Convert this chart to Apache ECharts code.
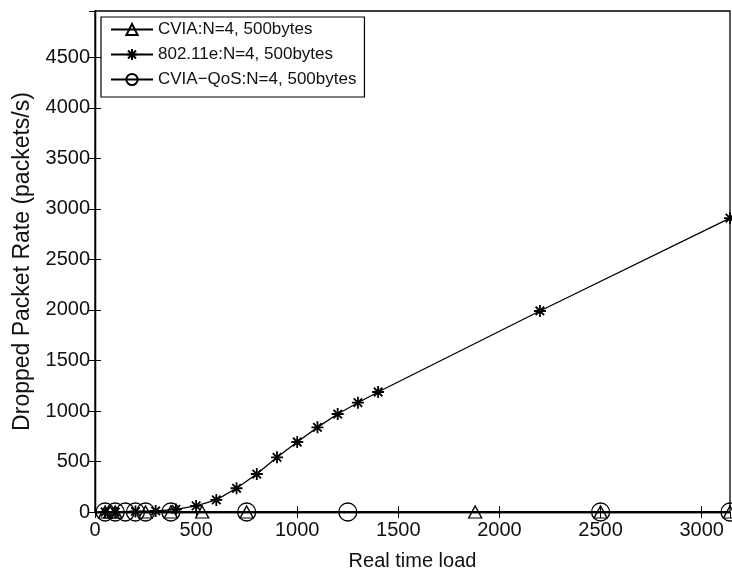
<!DOCTYPE html>
<html>
<head>
<meta charset="utf-8">
<script src="https://cdn.jsdelivr.net/npm/echarts@6/dist/echarts.min.js"></script>
<style>html,body{margin:0;padding:0;background:#fff;}#c{width:732px;height:572px;}</style>
</head>
<body>
<div id="c"></div>
<script>
const xTicks = [0, 500, 1000, 1500, 2000, 2500, 3000];
const yTicks = [0, 500, 1000, 1500, 2000, 2500, 3000, 3500, 4000, 4500];
const seriesNames = ['CVIA:N=4, 500bytes', '802.11e:N=4, 500bytes', 'CVIA\u2212QoS:N=4, 500bytes'];
const cviaX = [50, 75, 100, 250, 375, 530, 750, 1880, 2500, 3140];
const cviaY = [0, 0, 0, 0, 0, 0, 0, 0, 0, 0];
const e80211X = [50, 100, 200, 300, 400, 500, 600, 700, 800, 900, 1000, 1100, 1200, 1300, 1400, 2200, 3140];
const e80211Y = [0, 0, 5, 10, 25, 60, 120, 235, 376, 541, 693, 838, 970, 1082, 1188, 1990, 2910];
const qosX = [50, 100, 150, 200, 250, 375, 750, 1250, 2500, 3140];
const qosY = [0, 0, 0, 0, 0, 0, 0, 0, 0, 0];

const zip = (a, b) => a.map((v, i) => [v, b[i]]);
const FONT = 'Liberation Sans, Arial, sans-serif';
const starPath = 'path://M0,-10L0,10M-10,0L10,0M-7.07,-7.07L7.07,7.07M-7.07,7.07L7.07,-7.07';

const chart = echarts.init(document.getElementById('c'), null, {renderer: 'canvas'});
const tickLabel = {color: '#111', fontSize: 20, fontFamily: FONT};
const common = (s) => ({
  type: 'line',
  clip: false,
  lineStyle: {color: '#000', width: 1.3},
  showAllSymbol: true,
  animation: false,
  ...s
});
chart.setOption({
  animation: false,
  grid: {left: 95, right: 2, top: 11, bottom: 60, outerBoundsMode: 'none', containLabel: false, show: true, borderColor: '#000', borderWidth: 1.3, backgroundColor: '#fff'},
  legend: {
    orient: 'vertical', left: 101, top: 17,
    backgroundColor: '#fff', borderColor: '#000', borderWidth: 1.2,
    padding: [4, 8, 9, 9],
    itemWidth: 42, itemHeight: 14, itemGap: 8,
    textStyle: {fontSize: 17, fontFamily: FONT, color: '#111'},
    data: seriesNames
  },
  xAxis: [{
    type: 'value', min: 0, max: 3140, interval: 500,
    name: 'Real time load', nameLocation: 'middle', nameGap: 39,
    nameTextStyle: {fontSize: 20, fontFamily: FONT, color: '#111'},
    axisLine: {onZero: false, lineStyle: {color: '#000', width: 1.3}},
    axisTick: {inside: true, length: 6, lineStyle: {color: '#000'}},
    axisLabel: {...tickLabel, margin: 8, showMaxLabel: false, formatter: v => xTicks.includes(v) ? String(v) : ''},
    splitLine: {show: false}
  }, {
    type: 'value', min: 0, max: 3140, interval: 500, position: 'top',
    axisLine: {show: true, lineStyle: {color: '#000', width: 1.3}}, axisTick: {show: true, inside: true, length: 6, lineStyle: {color: '#000'}},
    axisLabel: {show: false}, splitLine: {show: false}
  }],
  yAxis: [{
    type: 'value', min: 0, max: 4960, interval: 500,
    name: 'Dropped Packet Rate (packets/s)', nameLocation: 'middle', nameGap: 61,
    nameTextStyle: {fontSize: 23, fontFamily: FONT, color: '#111'},
    axisLine: {onZero: false, lineStyle: {color: '#000', width: 1.3}},
    axisTick: {inside: true, length: 6, lineStyle: {color: '#000'}},
    axisLabel: {...tickLabel, margin: 5, showMaxLabel: false, formatter: v => yTicks.includes(v) ? String(v) : ''},
    splitLine: {show: false}
  }, {
    type: 'value', min: 0, max: 4960, interval: 500, position: 'right',
    axisLine: {show: true, lineStyle: {color: '#000', width: 1.3}}, axisTick: {show: true, inside: true, length: 6, lineStyle: {color: '#000'}},
    axisLabel: {show: false}, splitLine: {show: false}
  }],
  series: [
    common({
      name: seriesNames[0], data: zip(cviaX, cviaY), z: 3,
      symbol: 'triangle', symbolSize: [13, 12],
      itemStyle: {color: 'rgba(0,0,0,0)', borderColor: '#000', borderWidth: 1.3}
    }),
    common({
      name: seriesNames[1], data: zip(e80211X, e80211Y), z: 4,
      symbol: starPath, symbolSize: 12,
      itemStyle: {color: 'rgba(0,0,0,0)', borderColor: '#000', borderWidth: 1.8}
    }),
    common({
      name: seriesNames[2], data: zip(qosX, qosY), z: 2,
      symbol: 'circle', symbolSize: 18,
      itemStyle: {color: 'rgba(0,0,0,0)', borderColor: '#000', borderWidth: 1.3}
    })
  ]
});
</script>
</body>
</html>
